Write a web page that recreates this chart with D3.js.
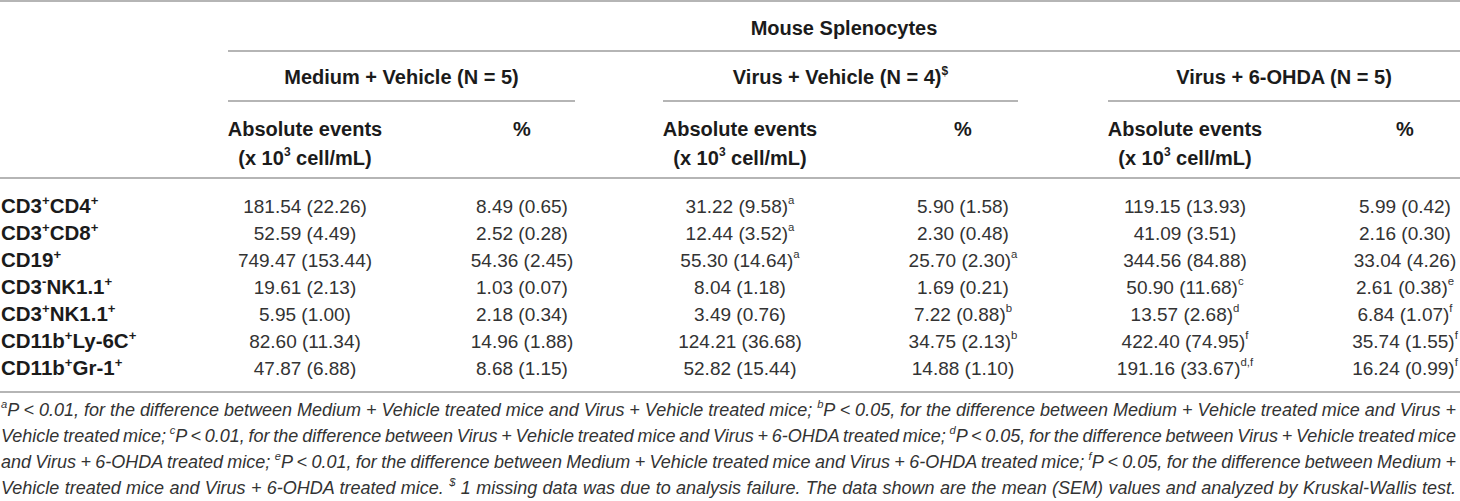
<!DOCTYPE html>
<html>
<head>
<meta charset="utf-8">
<script src="https://cdn.jsdelivr.net/npm/d3@7"></script>
<style>
  body { margin: 0; background: #fff; }
  svg { display: block; font-family: "Liberation Sans", Arial, sans-serif; }
</style>
</head>
<body>
<svg id="chart" width="1460" height="501"></svg>
<script>
// {x} marks a superscript
const rowLabels = ["CD3{+}CD4{+}", "CD3{+}CD8{+}", "CD19{+}", "CD3{-}NK1.1{+}",
  "CD3{+}NK1.1{+}", "CD11b{+}Ly-6C{+}", "CD11b{+}Gr-1{+}"];
const topHeader = "Mouse Splenocytes";
const groupLabels = ["Medium + Vehicle (N = 5)", "Virus + Vehicle (N = 4){$}", "Virus + 6-OHDA (N = 5)"];
const subHeads = ["Absolute events", "%"];
const unitLabel = "(x 10{3} cell/mL)";

const medAbsMean = [181.54, 52.59, 749.47, 19.61, 5.95, 82.60, 47.87];
const medAbsSem = [22.26, 4.49, 153.44, 2.13, 1.00, 11.34, 6.88];
const medAbsSig = ["", "", "", "", "", "", ""];
const medPctMean = [8.49, 2.52, 54.36, 1.03, 2.18, 14.96, 8.68];
const medPctSem = [0.65, 0.28, 2.45, 0.07, 0.34, 1.88, 1.15];
const medPctSig = ["", "", "", "", "", "", ""];

const virAbsMean = [31.22, 12.44, 55.30, 8.04, 3.49, 124.21, 52.82];
const virAbsSem = [9.58, 3.52, 14.64, 1.18, 0.76, 36.68, 15.44];
const virAbsSig = ["a", "a", "a", "", "", "", ""];
const virPctMean = [5.90, 2.30, 25.70, 1.69, 7.22, 34.75, 14.88];
const virPctSem = [1.58, 0.48, 2.30, 0.21, 0.88, 2.13, 1.10];
const virPctSig = ["", "", "a", "", "b", "b", ""];

const ohdAbsMean = [119.15, 41.09, 344.56, 50.90, 13.57, 422.40, 191.16];
const ohdAbsSem = [13.93, 3.51, 84.88, 11.68, 2.68, 74.95, 33.67];
const ohdAbsSig = ["", "", "", "c", "d", "f", "d,f"];
const ohdPctMean = [5.99, 2.16, 33.04, 2.61, 6.84, 35.74, 16.24];
const ohdPctSem = [0.42, 0.30, 4.26, 0.38, 1.07, 1.55, 0.99];
const ohdPctSig = ["", "", "", "e", "f", "f", "f"];

const footnoteLines = [
  "{a}P < 0.01, for the difference between Medium + Vehicle treated mice and Virus + Vehicle treated mice; {b}P < 0.05, for the difference between Medium + Vehicle treated mice and Virus +",
  "Vehicle treated mice; {c}P < 0.01, for the difference between Virus + Vehicle treated mice and Virus + 6-OHDA treated mice; {d}P < 0.05, for the difference between Virus + Vehicle treated mice",
  "and Virus + 6-OHDA treated mice; {e}P < 0.01, for the difference between Medium + Vehicle treated mice and Virus + 6-OHDA treated mice; {f}P < 0.05, for the difference between Medium +",
  "Vehicle treated mice and Virus + 6-OHDA treated mice. {$} 1 missing data was due to analysis failure. The data shown are the mean (SEM) values and analyzed by Kruskal-Wallis test."
];

const columns = [
  { mean: medAbsMean, sem: medAbsSem, sig: medAbsSig },
  { mean: medPctMean, sem: medPctSem, sig: medPctSig },
  { mean: virAbsMean, sem: virAbsSem, sig: virAbsSig },
  { mean: virPctMean, sem: virPctSem, sig: virPctSig },
  { mean: ohdAbsMean, sem: ohdAbsSem, sig: ohdAbsSig },
  { mean: ohdPctMean, sem: ohdPctSem, sig: ohdPctSig },
];

const W = 1460;
const ruleColor = "#9c9c9c";
const boldColor = "#1b1b1b";
const textColor = "#333";

const svg = d3.select("#chart");

const x = d3.scaleOrdinal().domain(d3.range(6)).range([305, 522, 740, 963, 1185, 1405]);
const groupSpan = d3.scaleOrdinal().domain(d3.range(3)).range([[228, 575], [663, 1018], [1108, W]]);
const y = d3.scalePoint().domain(rowLabels).range([213, 375]);

// write a string with {sup} parts into a text selection
function rich(sel, str, fs, scale = 0.62, rise = 0.42) {
  const parts = str.split(/(\{[^}]*\})/).filter(s => s.length);
  let up = false;
  parts.forEach(p => {
    const sup = p.startsWith("{");
    const t = sel.append("tspan").text(sup ? p.slice(1, -1) : p);
    if (sup) {
      t.attr("font-size", fs * scale).attr("dy", up ? 0 : -fs * rise);
      up = true;
    } else {
      t.attr("dy", up ? fs * rise : 0);
      up = false;
    }
  });
  return sel;
}

function hline(x1, x2, yy) {
  svg.append("line").attr("x1", x1).attr("x2", x2).attr("y1", yy).attr("y2", yy)
    .attr("stroke", ruleColor).attr("stroke-width", 1.6);
}

// rules
hline(0, W, 1);
hline(228, W, 51);
d3.range(3).forEach(g => hline(groupSpan(g)[0], groupSpan(g)[1], 101));
hline(0, W, 178);
hline(0, W, 392);

// header
svg.append("text").attr("x", (228 + W) / 2).attr("y", 35)
  .attr("text-anchor", "middle").attr("font-size", 20).attr("font-weight", "bold")
  .attr("fill", boldColor).text(topHeader);

svg.selectAll(".group").data(groupLabels).join("text")
  .attr("class", "group")
  .attr("x", (d, i) => (groupSpan(i)[0] + groupSpan(i)[1]) / 2)
  .attr("y", 84)
  .attr("text-anchor", "middle").attr("font-size", 20).attr("font-weight", "bold")
  .attr("fill", boldColor)
  .each(function (d) { rich(d3.select(this), d, 20, 0.6, 0.45); });

d3.range(6).forEach(c => {
  svg.append("text").attr("x", x(c)).attr("y", 136)
    .attr("text-anchor", "middle").attr("font-size", 20).attr("font-weight", "bold")
    .attr("fill", boldColor).text(subHeads[c % 2]);
  if (c % 2 === 0) {
    svg.append("text").attr("x", x(c)).attr("y", 165)
      .attr("text-anchor", "middle").attr("font-size", 20).attr("font-weight", "bold")
      .attr("fill", boldColor)
      .call(s => rich(s, unitLabel, 20, 0.6, 0.45));
  }
});

// row labels
svg.selectAll(".rowlab").data(rowLabels).join("text")
  .attr("class", "rowlab")
  .attr("x", 1).attr("y", d => y(d))
  .attr("font-size", 20.5).attr("font-weight", "bold").attr("fill", boldColor)
  .each(function (d) { rich(d3.select(this), d, 20.5, 0.64, 0.4); });

// cells
columns.forEach((col, c) => {
  svg.selectAll(".cell" + c).data(rowLabels).join("text")
    .attr("class", "cell" + c)
    .attr("x", x(c)).attr("y", d => y(d))
    .attr("text-anchor", "middle").attr("font-size", 19).attr("fill", textColor)
    .each(function (d, i) {
      let s = col.mean[i].toFixed(2) + " (" + col.sem[i].toFixed(2) + ")";
      if (col.sig[i]) s += "{" + col.sig[i] + "}";
      rich(d3.select(this), s, 19, 0.6, 0.45);
    });
});

// footnote, justified to the full width
const fy = d3.scalePoint().domain(d3.range(footnoteLines.length)).range([416, 494]);
footnoteLines.forEach((line, i) => {
  const t = svg.append("text").attr("x", 1).attr("y", fy(i))
    .attr("font-size", 18).attr("font-style", "italic").attr("fill", textColor)
    .call(s => rich(s, line, 18, 0.62, 0.42));
  const len = t.node().getComputedTextLength();
  const spaces = (line.match(/ /g) || []).length;
  t.attr("word-spacing", ((W - 5) - len) / spaces);
});
</script>
</body>
</html>
